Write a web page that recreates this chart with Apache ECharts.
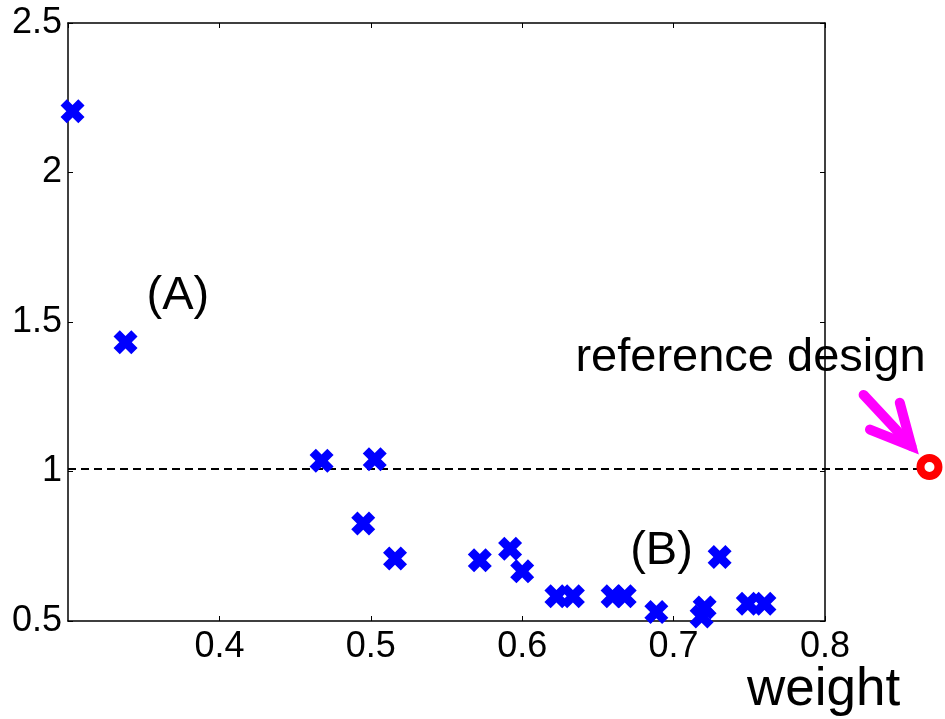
<!DOCTYPE html>
<html>
<head>
<meta charset="utf-8">
<script src="https://cdn.jsdelivr.net/npm/echarts@6/dist/echarts.min.js"></script>
<style>
html,body{margin:0;padding:0;background:#fff;}
#c{width:945px;height:719px;}
</style>
</head>
<body>
<div id="c"></div>
<script>
// ---- data ----
const weight    = [0.303, 0.338, 0.4675, 0.5026, 0.495, 0.516, 0.572, 0.592, 0.600, 0.6226, 0.6335, 0.6597, 0.6677, 0.6886, 0.7205, 0.7185, 0.7304, 0.749, 0.760];
const objective = [2.205, 1.432, 1.036, 1.041, 0.826, 0.709, 0.703, 0.742, 0.666, 0.583, 0.583, 0.583, 0.583, 0.530, 0.545, 0.515, 0.714, 0.558, 0.558];
const referenceDesign = [0.869, 1.015];
const referenceLevel = 1.008;
const referenceLineX = [0.3, 0.866];
const xRange = [0.3, 0.8];
const xStep = 0.1;
const yRange = [0.5, 2.5];
const yStep = 0.5;
const annotationText = ['(A)', '(B)', 'reference design'];
const annotationX = [0.3726, 0.692, 0.7508];
const annotationY = [1.587, 0.733, 1.379];
const arrowShaft = [[0.8255, 1.2560], [0.8571, 1.0847]];
const arrowHead  = [[0.8297, 1.1400], [0.8571, 1.0847], [0.8494, 1.2300]];
const xAxisTitle = 'weight';

// ---- chart ----
const chart = echarts.init(document.getElementById('c'), null, {renderer: 'canvas'});
const FONT = '"Liberation Sans", Arial, sans-serif';
const xMarker = 'path://M0,26L26,0L50,24L74,0L100,26L76,50L100,74L74,100L50,76L26,100L0,74L24,50Z';

const axisCommon = {
  axisLine: {show: true, lineStyle: {color: '#000', width: 1.5}},
  axisTick: {show: true, inside: true, length: 5, lineStyle: {color: '#000', width: 1}},
  splitLine: {show: false}
};

function polylineSeries(name, points, style, z) {
  return {
    type: 'custom', name: name, clip: false, silent: true, z: z,
    data: [points[0]],
    renderItem: function (params, api) {
      return {
        type: 'polyline',
        shape: {points: points.map(p => api.coord(p))},
        style: Object.assign({fill: null}, style)
      };
    }
  };
}

const option = {
  backgroundColor: '#fff',
  animation: false,
  grid: {left: 68, top: 23, right: 120, bottom: 98, containLabel: false},
  xAxis: [
    Object.assign({
      type: 'value', min: xRange[0], max: xRange[1], interval: xStep, position: 'bottom',
      axisLabel: {show: true, showMinLabel: false, color: '#000', fontFamily: FONT, fontSize: 36, margin: 8}
    }, axisCommon),
    Object.assign({
      type: 'value', min: xRange[0], max: xRange[1], interval: xStep, position: 'top',
      axisLabel: {show: false}
    }, axisCommon)
  ],
  yAxis: [
    Object.assign({
      type: 'value', min: yRange[0], max: yRange[1], interval: yStep, position: 'left',
      axisLabel: {show: true, color: '#000', fontFamily: FONT, fontSize: 36, margin: 6}
    }, axisCommon),
    Object.assign({
      type: 'value', min: yRange[0], max: yRange[1], interval: yStep, position: 'right',
      axisLabel: {show: false}
    }, axisCommon)
  ],
  graphic: [{
    type: 'text', left: 747, top: 664,
    style: {text: xAxisTitle, fill: '#000', font: '53px ' + FONT}
  }],
  series: [
    polylineSeries('ref level', referenceLineX.map(x => [x, referenceLevel]),
      {stroke: '#000', lineWidth: 2, lineDash: [8, 5]}, 2),
    {
      type: 'scatter', name: 'designs', symbol: xMarker, symbolSize: 24, clip: false,
      data: weight.map((w, i) => [w, objective[i]]),
      itemStyle: {color: '#0000ff', opacity: 1}, z: 3
    },
    {
      type: 'scatter', name: 'reference design', symbol: 'circle', symbolSize: 18, clip: false,
      data: [referenceDesign],
      itemStyle: {color: '#fff', borderColor: '#ff0000', borderWidth: 8, opacity: 1}, z: 4
    },
    polylineSeries('arrow shaft', arrowShaft,
      {stroke: '#ff00ff', lineWidth: 10, lineCap: 'round', lineJoin: 'round'}, 4),
    polylineSeries('arrow head', arrowHead,
      {stroke: '#ff00ff', lineWidth: 10, lineCap: 'round', lineJoin: 'miter'}, 4),
    {
      type: 'scatter', name: 'annotations', clip: false, silent: true, symbolSize: 0.1,
      data: annotationText.map((t, i) => ({value: [annotationX[i], annotationY[i]], name: t})),
      itemStyle: {color: 'rgba(0,0,0,0)', opacity: 1},
      label: {show: true, position: 'inside', formatter: p => p.name, color: '#000', fontFamily: FONT, fontSize: 47},
      z: 5
    }
  ]
};
chart.setOption(option);
</script>
</body>
</html>
